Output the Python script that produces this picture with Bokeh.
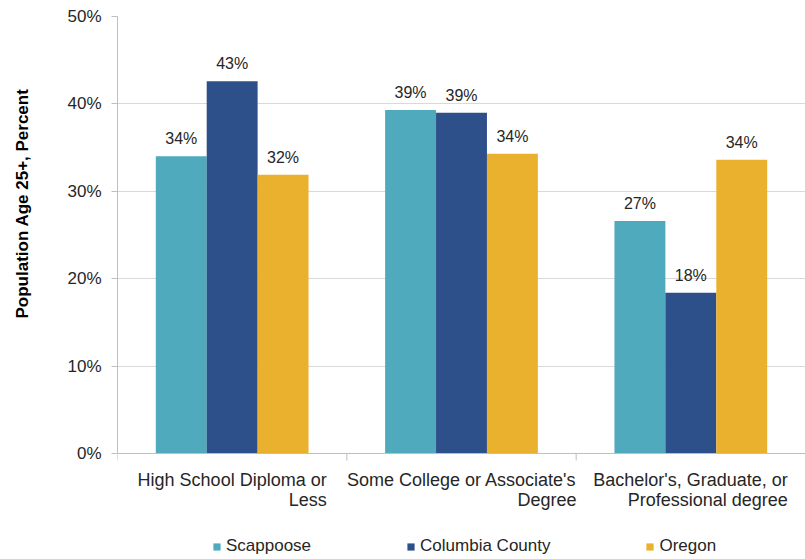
from bokeh.plotting import figure
from bokeh.core.properties import value
from bokeh.models import (ColumnDataSource, LabelSet, Legend, LegendItem, Span, Title,
                          Range1d, FixedTicker, PrintfTickFormatter)
from bokeh.transform import dodge
from bokeh.embed import file_html
from bokeh.resources import INLINE

categories = ["High School Diploma or\nLess",
              "Some College or Associate's\nDegree",
              "Bachelor's, Graduate, or\nProfessional degree"]
series_names = ["Scappoose", "Columbia County", "Oregon"]
scappoose = [34.0, 39.3, 26.6]
columbia = [42.6, 39.0, 18.4]
oregon = [31.9, 34.3, 33.6]
y_ticks = [0, 10, 20, 30, 40, 50]

colors = ["#4EAABC", "#2D4F8A", "#EAB12F"]
FONT = "Liberation Sans"
TXT = "#262626"
AXC = "#bfbfbf"

src = ColumnDataSource(dict(
    cat=categories,
    s0=scappoose, s1=columbia, s2=oregon,
    l0=[f"{round(v)}%" for v in scappoose],
    l1=[f"{round(v)}%" for v in columbia],
    l2=[f"{round(v)}%" for v in oregon],
    line1=[c.split("\n")[0] for c in categories],
    line2=[c.split("\n")[1] for c in categories],
    zero=[0] * len(categories),
    xoff=[94.5, 115, 97],
))

# frame extends below zero so the category labels and legend sit inside it
p = figure(width=805, height=559, x_range=categories, y_range=Range1d(-12.13, 50),
           output_backend="svg", toolbar_location=None, x_axis_location=None,
           min_border_left=117, min_border_right=0, min_border_top=16,
           min_border_bottom=0)
p.outline_line_color = None
p.xgrid.grid_line_color = None
p.ygrid.grid_line_color = "#d9d9d9"
p.ygrid.ticker = FixedTicker(ticks=y_ticks)

yax = p.yaxis[0]
yax.bounds = (0, 50)
yax.ticker = FixedTicker(ticks=y_ticks)
yax.formatter = PrintfTickFormatter(format="%d%%")
yax.axis_line_color = AXC
yax.major_tick_line_color = AXC
yax.major_tick_out = 6
yax.major_tick_in = 0
yax.minor_tick_line_color = None
yax.major_label_standoff = 10
yax.major_label_text_font = FONT
yax.major_label_text_font_size = "17px"
yax.major_label_text_color = TXT

p.add_layout(Title(text="Population Age 25+, Percent\n ", align="right", offset=72,
                   text_font=FONT, text_font_size="17px", text_font_style="bold",
                   text_color="#000000", standoff=16, text_line_height=1.3), "left")

# category axis line and boundary ticks
p.add_layout(Span(location=0, dimension="width", line_color=AXC, line_width=1))
edges = list(range(len(categories) + 1))
p.segment(x0=edges, y0=[0] * len(edges), x1=edges, y1=[-0.8] * len(edges),
          line_color=AXC, line_width=1)

offs = [-0.222, 0.0, 0.222]
renderers = []
for i, off in enumerate(offs):
    r = p.vbar(x=dodge("cat", off, range=p.x_range), top=f"s{i}", width=0.222,
               source=src, fill_color=colors[i], line_color=None)
    renderers.append(r)
    p.add_layout(LabelSet(x=dodge("cat", off, range=p.x_range), y=f"s{i}", text=f"l{i}",
                          source=src, text_align="center", text_baseline="alphabetic",
                          y_offset=12, text_font=value(FONT), text_font_size=value("16px"),
                          text_color=TXT))

for col, yo in (("line1", -17), ("line2", -37)):
    p.add_layout(LabelSet(x="cat", y="zero", text=col, source=src, x_offset="xoff",
                          y_offset=yo, text_align="right", text_baseline="top",
                          text_font=value(FONT), text_font_size=value("18px"),
                          text_color=TXT))

legend = Legend(items=[LegendItem(label=n, renderers=[r]) for n, r in zip(series_names, renderers)],
                orientation="horizontal", location=(95, 3), spacing=95,
                glyph_width=9, glyph_height=9, label_standoff=5,
                label_text_font=FONT, label_text_font_size="17px", label_text_color=TXT,
                padding=0, margin=0, border_line_color=None, background_fill_alpha=0)
p.add_layout(legend, "center")

open("out.html", "w").write(file_html(p, INLINE))
